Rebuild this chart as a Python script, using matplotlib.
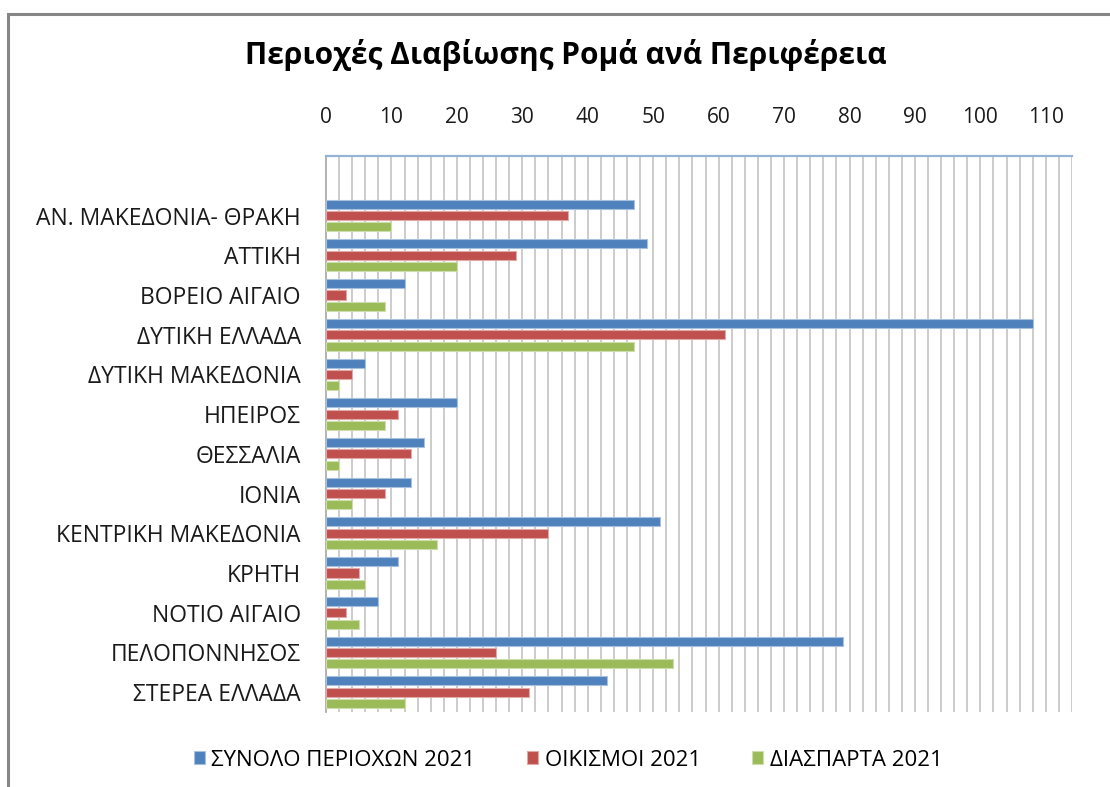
import numpy as np
import matplotlib
matplotlib.use("Agg")
import matplotlib.pyplot as plt
from matplotlib.patches import Rectangle

plt.rcParams["font.family"] = ["Open Sans", "DejaVu Sans"]

regions = [
    "ΑΝ. ΜΑΚΕΔΟΝΙΑ- ΘΡΑΚΗ",
    "ΑΤΤΙΚΗ",
    "ΒΟΡΕΙΟ ΑΙΓΑΙΟ",
    "ΔΥΤΙΚΗ ΕΛΛΑΔΑ",
    "ΔΥΤΙΚΗ ΜΑΚΕΔΟΝΙΑ",
    "ΗΠΕΙΡΟΣ",
    "ΘΕΣΣΑΛΙΑ",
    "ΙΟΝΙΑ",
    "ΚΕΝΤΡΙΚΗ ΜΑΚΕΔΟΝΙΑ",
    "ΚΡΗΤΗ",
    "ΝΟΤΙΟ ΑΙΓΑΙΟ",
    "ΠΕΛΟΠΟΝΝΗΣΟΣ",
    "ΣΤΕΡΕΑ ΕΛΛΑΔΑ",
]
total_2021 = [47, 49, 12, 108, 6, 20, 15, 13, 51, 11, 8, 79, 43]
settlements_2021 = [37, 29, 3, 61, 4, 11, 13, 9, 34, 5, 3, 26, 31]
scattered_2021 = [10, 20, 9, 47, 2, 9, 2, 4, 17, 6, 5, 53, 12]

series = [
    ("ΣΥΝΟΛΟ ΠΕΡΙΟΧΩΝ 2021", total_2021, "#4F81BD", "#A7C0DE"),
    ("ΟΙΚΙΣΜΟΙ 2021", settlements_2021, "#C0504D", "#E0A8A6"),
    ("ΔΙΑΣΠΑΡΤΑ 2021", scattered_2021, "#9BBB59", "#CDDDAC"),
]

fig = plt.figure(figsize=(11.10, 7.87), dpi=100)

# outer chart frame (only left/top edges visible in the reference)
fig.patches.append(Rectangle((8 / 1110, -0.1), 1.2, 1 - 14 / 787 + 0.1,
                             transform=fig.transFigure, fill=False,
                             edgecolor="#868686", linewidth=2.2))

ax = fig.add_axes([326 / 1110, 1 - 712 / 787, 746 / 1110, 556 / 787])

y = np.arange(len(regions))
offset = 0.285
height = 0.227
handles = []
for k, (name, vals, color, edge) in enumerate(series):
    b = ax.barh(y + (k - 1) * offset, vals, height=height, color=color,
                edgecolor=edge, linewidth=0.8, label=name, zorder=3)
    handles.append(b)

ax.set_xlim(0, 114)
ax.set_ylim(len(regions) - 0.5, -1.5)

# minor gridlines every 2 units
for gx in np.arange(2, 115, 2):
    ax.axvline(gx, color="#BFBFBF", linewidth=1.1, zorder=1)

ax.xaxis.tick_top()
ax.set_xticks(np.arange(0, 111, 10))
ax.tick_params(axis="x", length=0, pad=20, labelsize=15, colors="#1a1a1a")
ax.set_yticks(y)
ax.set_yticklabels(regions)
ax.tick_params(axis="y", length=0, pad=18, labelsize=16.5, colors="#1a1a1a")

for s in ["right", "bottom"]:
    ax.spines[s].set_visible(False)
ax.spines["left"].set_color("#A6A6A6")
ax.spines["left"].set_linewidth(1.2)
ax.spines["top"].set_color("#95B3D7")
ax.spines["top"].set_linewidth(1.6)

fig.text(566 / 1110, 1 - 55 / 787, "Περιοχές Διαβίωσης Ρομά ανά Περιφέρεια",
         ha="center", va="center", fontsize=21.5, fontweight="bold",
         color="#000000")

fig.legend(handles=handles, loc="center", bbox_to_anchor=(568 / 1110, 1 - 760 / 787),
           ncol=3, frameon=False, fontsize=16, handlelength=0.5,
           handleheight=0.5, handletextpad=0.3, columnspacing=2.3)

fig.savefig("out.png", dpi=100, facecolor="white")
